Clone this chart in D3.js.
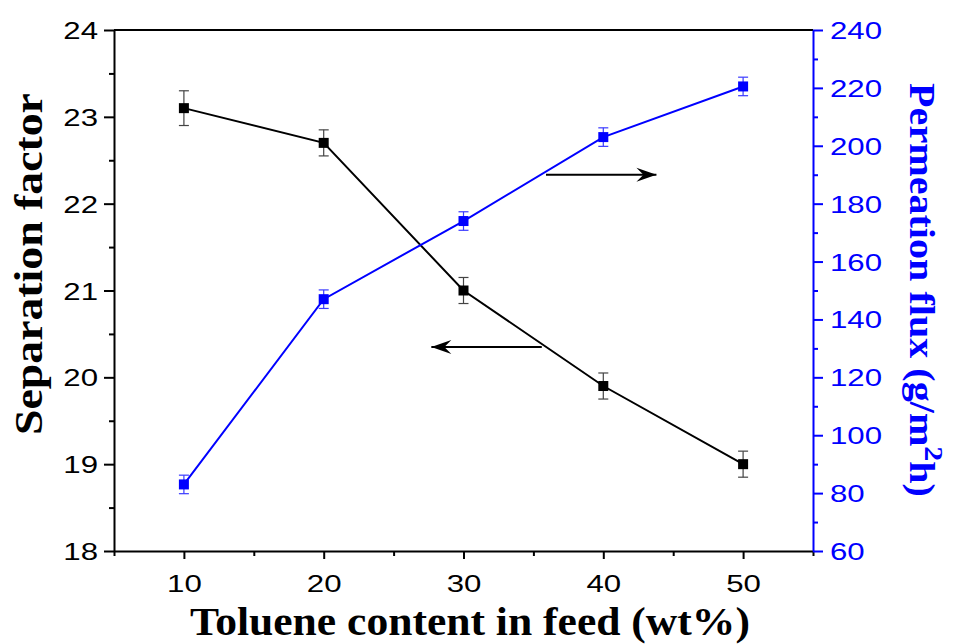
<!DOCTYPE html>
<html>
<head>
<meta charset="utf-8">
<script src="https://cdn.jsdelivr.net/npm/d3@7"></script>
<style>
  html, body { margin: 0; padding: 0; background: #fff; }
  svg { display: block; }
</style>
</head>
<body>
<svg id="chart" width="956" height="644"></svg>
<script>
// Toluene content in feed (wt%)
const feedContent = [10, 20, 30, 40, 50];
// Separation factor (left axis) and its error
const separationFactor = [23.1, 22.7, 21.0, 19.9, 19.0];
const separationErr = [0.2, 0.15, 0.15, 0.15, 0.15];
// Permeation flux, g/(m^2 h) (right axis) and its error
const permeationFlux = [83, 147, 174, 203, 220.5];
const fluxErr = [3.2, 3.2, 3.2, 3.2, 3.2];

const xTicks = [10, 20, 30, 40, 50];
const leftTicks = [18, 19, 20, 21, 22, 23, 24];
const rightTicks = [60, 80, 100, 120, 140, 160, 180, 200, 220, 240];

const svg = d3.select("#chart");
const m = { left: 114, right: 813, top: 30, bottom: 551 };
const BLUE = "#0000ff";

const x = d3.scaleLinear().domain([5, 55]).range([m.left, m.right]);
const yL = d3.scaleLinear().domain([18, 24]).range([m.bottom, m.top]);
const yR = d3.scaleLinear().domain([60, 240]).range([m.bottom, m.top]);

const tickFont = "'Liberation Sans', Arial, sans-serif";
const titleFont = "'Liberation Serif', 'Times New Roman', serif";
const TICK_SIZE = 24, TICK_STRETCH = 1.3;

// Top frame line
svg.append("line")
  .attr("x1", m.left).attr("x2", m.right)
  .attr("y1", m.top).attr("y2", m.top)
  .attr("stroke", "#000").attr("stroke-width", 2);

// Wide tick labels: each label is placed at (ox, oy) relative to its tick
function styleAxis(g, color, ox, oy, anchor) {
  g.select(".domain").attr("stroke", color).attr("stroke-width", 2);
  g.selectAll(".tick line").attr("stroke", color).attr("stroke-width", 2);
  g.selectAll(".tick text")
    .attr("fill", color)
    .attr("x", 0).attr("y", 0).attr("dy", null)
    .attr("text-anchor", anchor)
    .attr("dominant-baseline", "alphabetic")
    .attr("transform", `translate(${ox},${oy}) scale(${TICK_STRETCH},1)`)
    .style("font-family", tickFont)
    .style("font-size", TICK_SIZE + "px");
}

// Minor ticks
function minor(axisGen, scale, vals, transform, color) {
  const g = svg.append("g").attr("transform", transform)
    .call(axisGen(scale).tickValues(vals).tickSize(5).tickFormat(""));
  g.select(".domain").remove();
  g.selectAll(".tick line").attr("stroke", color).attr("stroke-width", 2);
}
minor(d3.axisBottom, x, [5, 15, 25, 35, 45, 55], `translate(0,${m.bottom})`, "#000");
minor(d3.axisLeft, yL, [18.5, 19.5, 20.5, 21.5, 22.5, 23.5], `translate(${m.left},0)`, "#000");
minor(d3.axisRight, yR, [70, 90, 110, 130, 150, 170, 190, 210, 230], `translate(${m.right},0)`, BLUE);

// Bottom axis
const gx = svg.append("g").attr("transform", `translate(0,${m.bottom})`)
  .call(d3.axisBottom(x).tickValues(xTicks).tickFormat(d3.format("d")).tickSize(8).tickSizeOuter(0));
styleAxis(gx, "#000", 0, 41, "middle");

// Left axis
const gl = svg.append("g").attr("transform", `translate(${m.left},0)`)
  .call(d3.axisLeft(yL).tickValues(leftTicks).tickFormat(d3.format("d")).tickSize(10).tickSizeOuter(0));
styleAxis(gl, "#000", -16, 8.5, "end");

// Right axis
const gr = svg.append("g").attr("transform", `translate(${m.right},0)`)
  .call(d3.axisRight(yR).tickValues(rightTicks).tickFormat(d3.format("d")).tickSize(10).tickSizeOuter(0));
styleAxis(gr, BLUE, 17, 8.5, "start");

// Series drawing helper
function series(values, errs, yScale, color, errColor) {
  const pts = feedContent.map((d, i) => ({ x: d, y: values[i], e: errs[i] }));
  svg.append("path").datum(pts)
    .attr("fill", "none").attr("stroke", color).attr("stroke-width", 2)
    .attr("d", d3.line().x(d => x(d.x)).y(d => yScale(d.y)));
  const eb = svg.append("g").attr("stroke", errColor).attr("stroke-width", 1.2);
  pts.forEach(p => {
    const cx = x(p.x), y1 = yScale(p.y + p.e), y2 = yScale(p.y - p.e);
    eb.append("line").attr("x1", cx).attr("x2", cx).attr("y1", y1).attr("y2", y2);
    eb.append("line").attr("x1", cx - 5).attr("x2", cx + 5).attr("y1", y1).attr("y2", y1);
    eb.append("line").attr("x1", cx - 5).attr("x2", cx + 5).attr("y1", y2).attr("y2", y2);
  });
  svg.append("g").selectAll("rect").data(pts).join("rect")
    .attr("x", d => x(d.x) - 5).attr("y", d => yScale(d.y) - 5)
    .attr("width", 10).attr("height", 10).attr("fill", color);
}
series(separationFactor, separationErr, yL, "#000", "#444");
series(permeationFlux, fluxErr, yR, BLUE, "#3a3aff");

// Direction arrows pointing to the relevant axis
function arrow(x1, x2, yPix) {
  svg.append("line")
    .attr("x1", x(x1)).attr("x2", x(x2)).attr("y1", yPix).attr("y2", yPix)
    .attr("stroke", "#000").attr("stroke-width", 2);
  const dir = Math.sign(x(x2) - x(x1));
  const tx = x(x2);
  svg.append("path")
    .attr("d", `M${tx},${yPix} L${tx - dir * 20},${yPix - 7} L${tx - dir * 13},${yPix} L${tx - dir * 20},${yPix + 7} Z`)
    .attr("fill", "#000");
}
arrow(35.9, 43.8, yR(190));
arrow(35.6, 27.7, yL(20.35));

// Title placed with its baseline centre at (cx, cy), stretched to a given length
function title(parts, size, color, cx, cy, rot, length) {
  const t = svg.append("text")
    .attr("text-anchor", "middle")
    .style("font-family", titleFont).style("font-weight", "bold")
    .style("font-size", size + "px")
    .attr("fill", color);
  parts.forEach(p => {
    const s = t.append("tspan").text(p.text);
    if (p.dy) s.attr("dy", p.dy);
    if (p.size) s.style("font-size", p.size + "px");
  });
  const natural = t.node().getComputedTextLength();
  t.attr("transform", `translate(${cx},${cy}) rotate(${rot}) scale(${length / natural},1)`);
  return t;
}

title([{ text: "Toluene content in feed (wt%)" }], 40, "#000", 470, 635, 0, 560);
title([{ text: "Separation factor" }], 40, "#000", 42, 264, -90, 342);
title([
  { text: "Permeation flux (g/m" },
  { text: "2", dy: -15, size: 26 },
  { text: "h)", dy: 15 }
], 35, BLUE, 910, 290, 90, 414);
</script>
</body>
</html>
